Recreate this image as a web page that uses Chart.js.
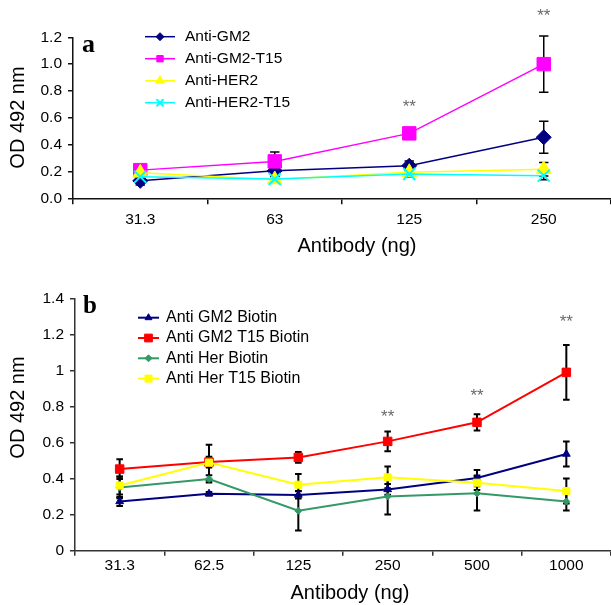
<!DOCTYPE html>
<html lang="en">
<head>
  <meta charset="UTF-8">
  <title>OD 492 nm vs Antibody</title>
  <style>
    body { margin: 0; background: #fff; overflow: hidden; }
    .panel { position: absolute; left: 0; }
    .panel canvas { display: block; }
    #panelA { top: 0; }
    #panelB { top: 262px; }
  </style>
  <script src="https://cdn.jsdelivr.net/npm/chart.js"></script>
</head>
<body>
  <div class="panel" id="panelA"><canvas id="chartA" width="611" height="262"></canvas></div>
  <div class="panel" id="panelB"><canvas id="chartB" width="611" height="343"></canvas></div>
  <script>
    // ---- panel a ----
    const doseA = ['31.3', '63', '125', '250'];
    const gm2A = [0.13, 0.205, 0.243, 0.455];
    const gm2T15A = [0.21, 0.275, 0.484, 1.0];
    const her2A = [0.19, 0.14, 0.194, 0.216];
    const her2T15A = [0.16, 0.144, 0.181, 0.169];
    const gm2ErrA = [0.03, 0.02, 0.035, 0.12];
    const gm2T15ErrA = [0.02, 0.07, 0.02, 0.21];
    const her2ErrA = [0.02, 0.02, 0.02, 0.05];
    const her2T15ErrA = [0.02, 0.02, 0.02, 0.03];
    const starsA = [null, null, 0.68, 1.36];

    // ---- panel b ----
    const doseB = ['31.3', '62.5', '125', '250', '500', '1000'];
    const gm2B = [0.274, 0.317, 0.31, 0.341, 0.404, 0.538];
    const gm2T15B = [0.454, 0.493, 0.519, 0.608, 0.714, 0.992];
    const herB = [0.352, 0.399, 0.222, 0.302, 0.319, 0.274];
    const herT15B = [0.363, 0.49, 0.367, 0.408, 0.378, 0.332];
    const gm2ErrB = [0.025, 0.01, 0.02, 0.03, 0.045, 0.07];
    const gm2T15ErrB = [0.055, 0.03, 0.03, 0.055, 0.045, 0.152];
    const herErrB = [0.06, 0.02, 0.11, 0.1, 0.095, 0.05];
    const herT15ErrB = [0.05, 0.1, 0.06, 0.06, 0.04, 0.07];
    const starsB = [null, null, null, 0.74, 0.86, 1.27];

    const FONT = 'Arial, "Liberation Sans", sans-serif';

    // error bars under the markers
    const errorBars = {
      id: 'errorBars',
      beforeDatasetsDraw(chart, args, opts) {
        const ctx = chart.ctx, y = chart.scales.y;
        ctx.save();
        ctx.strokeStyle = opts.color;
        ctx.lineWidth = opts.width;
        chart.data.datasets.forEach((ds, i) => {
          const meta = chart.getDatasetMeta(i);
          (ds.errors || []).forEach((e, j) => {
            if (!e) return;
            const x = meta.data[j].x;
            const top = y.getPixelForValue(ds.data[j] + e);
            const bot = y.getPixelForValue(ds.data[j] - e);
            ctx.beginPath();
            ctx.moveTo(x, top); ctx.lineTo(x, bot);
            ctx.moveTo(x - opts.cap, top); ctx.lineTo(x + opts.cap, top);
            ctx.moveTo(x - opts.cap, bot); ctx.lineTo(x + opts.cap, bot);
            ctx.stroke();
          });
        });
        ctx.restore();
      }
    };

    // ** marks, panel letter, axis titles and the inside legend
    const extras = {
      id: 'extras',
      afterDraw(chart, args, opts) {
        const ctx = chart.ctx, xs = chart.scales.x, ys = chart.scales.y;
        const area = chart.chartArea;
        ctx.save();
        ctx.fillStyle = '#6a6a6a';
        ctx.font = '17px ' + FONT;
        ctx.textAlign = 'center';
        ctx.textBaseline = 'middle';
        opts.stars.forEach((v, j) => {
          if (v == null) return;
          ctx.fillText('**', xs.getPixelForValue(j), ys.getPixelForValue(v));
        });

        // axis titles
        ctx.fillStyle = '#000';
        ctx.font = '20px ' + FONT;
        ctx.fillText('Antibody (ng)', opts.xTitle[0], opts.xTitle[1]);
        ctx.save();
        ctx.translate(opts.yTitle[0], opts.yTitle[1]);
        ctx.rotate(-Math.PI / 2);
        ctx.fillText('OD 492 nm', 0, 0);
        ctx.restore();

        ctx.textAlign = 'left';
        ctx.textBaseline = 'alphabetic';
        ctx.font = 'bold ' + opts.letterSize + 'px "Liberation Serif", "Times New Roman", serif';
        ctx.fillText(opts.letter, area.left + opts.letterDx, area.top + opts.letterDy);

        const lg = opts.legend;
        ctx.font = lg.fontSize + 'px ' + FONT;
        ctx.textBaseline = 'middle';
        chart.data.datasets.forEach((ds, i) => {
          const yy = lg.y + i * lg.dy;
          ctx.strokeStyle = ds.borderColor;
          ctx.lineWidth = ds.borderWidth;
          ctx.beginPath();
          ctx.moveTo(lg.x1, yy); ctx.lineTo(lg.x2, yy);
          ctx.stroke();
          ctx.fillStyle = ds.borderColor;
          ctx.lineWidth = ds.pointBorderWidth || 1;
          Chart.helpers.drawPoint(ctx, { pointStyle: ds.pointStyle, radius: ds.legendRadius, rotation: 0, borderWidth: ds.pointBorderWidth || 1 }, (lg.x1 + lg.x2) / 2, yy);
          ctx.fillStyle = '#000';
          ctx.fillText(ds.label, lg.textX, yy);
        });
        ctx.restore();
      }
    };

    function series(label, data, errors, color, style, radius, legendRadius, width, order) {
      return {
        label: label, data: data, errors: errors,
        borderColor: color, backgroundColor: color,
        pointBackgroundColor: color, pointBorderColor: color,
        pointStyle: style, pointRadius: radius, pointBorderWidth: style === 'crossRot' ? 2 : 1,
        legendRadius: legendRadius, borderWidth: width, tension: 0, order: order
      };
    }

    function makeOptions(cfg) {
      return {
        responsive: false,
        animation: false,
        layout: { autoPadding: false, padding: { top: cfg.padTop, right: 0, left: 0, bottom: 0 } },
        plugins: {
          legend: { display: false },
          tooltip: { enabled: false },
          errorBars: { color: '#000', width: cfg.errWidth, cap: cfg.cap },
          extras: cfg.extras
        },
        scales: {
          x: {
            offset: true,
            afterFit: s => { s.height = cfg.xHeight; },
            grid: { offset: true, drawOnChartArea: false, tickLength: cfg.xTick, color: cfg.axisColor, lineWidth: 1.5 },
            border: { color: cfg.axisColor, width: 1.5 },
            ticks: { color: '#000', font: { family: FONT, size: 15.5 }, padding: cfg.xPad }
          },
          y: {
            min: 0, max: cfg.yMax,
            afterFit: s => { s.width = cfg.yWidth; },
            grid: { drawOnChartArea: false, tickLength: 5, color: cfg.axisColor, lineWidth: 1.5 },
            border: { color: cfg.axisColor, width: 1.5 },
            ticks: { stepSize: 0.2, color: '#000', font: { family: FONT, size: 15.5 }, padding: 6, callback: cfg.tickFmt }
          }
        }
      };
    }

    new Chart(document.getElementById('chartA'), {
      type: 'line',
      data: {
        labels: doseA,
        datasets: [
          series('Anti-GM2', gm2A, gm2ErrA, '#000080', 'rectRot', 7.5, 4, 1.5, 4),
          series('Anti-GM2-T15', gm2T15A, gm2T15ErrA, '#FF00FF', 'rect', 9.5, 4.5, 1.5, 3),
          series('Anti-HER2', her2A, her2ErrA, '#FFFF00', 'triangle', 8.5, 5, 1.5, 2),
          series('Anti-HER2-T15', her2T15A, her2T15ErrA, '#00FFFF', 'crossRot', 8.5, 5, 1.5, 1)
        ]
      },
      options: makeOptions({
        padTop: 37.3, xHeight: 63.7, yWidth: 73, yMax: 1.2,
        xTick: 6, xPad: 6, axisColor: '#111', errWidth: 1.5, cap: 4.7,
        tickFmt: v => v.toFixed(1),
        extras: {
          stars: starsA, letter: 'a', letterSize: 26, letterDx: 9, letterDy: 15,
          xTitle: [357, 246], yTitle: [18, 117.5],
          legend: { x1: 145, x2: 175, textX: 185, y: 36.7, dy: 22, fontSize: 15.5 }
        }
      }),
      plugins: [errorBars, extras]
    });

    new Chart(document.getElementById('chartB'), {
      type: 'line',
      data: {
        labels: doseB,
        datasets: [
          series('Anti GM2 Biotin', gm2B, gm2ErrB, '#000080', 'triangle', 4.5, 4, 2, 4),
          series('Anti GM2 T15 Biotin', gm2T15B, gm2T15ErrB, '#FF0000', 'rect', 6, 5.5, 2, 3),
          series('Anti Her Biotin', herB, herErrB, '#339966', 'rectRot', 3.5, 3.5, 2, 2),
          series('Anti Her T15 Biotin', herT15B, herT15ErrB, '#FFFF00', 'rect', 5, 5, 2, 1)
        ]
      },
      options: makeOptions({
        padTop: 37, xHeight: 54.3, yWidth: 75, yMax: 1.4,
        xTick: 5, xPad: 1, axisColor: '#333', errWidth: 2, cap: 3.3,
        tickFmt: v => String(Number(v.toFixed(1))),
        extras: {
          stars: starsB, letter: 'b', letterSize: 25, letterDx: 8, letterDy: 13.7,
          xTitle: [350, 331], yTitle: [18, 145.5],
          legend: { x1: 138, x2: 159, textX: 166, y: 55.7, dy: 20.3, fontSize: 16 }
        }
      }),
      plugins: [errorBars, extras]
    });
  </script>
</body>
</html>
